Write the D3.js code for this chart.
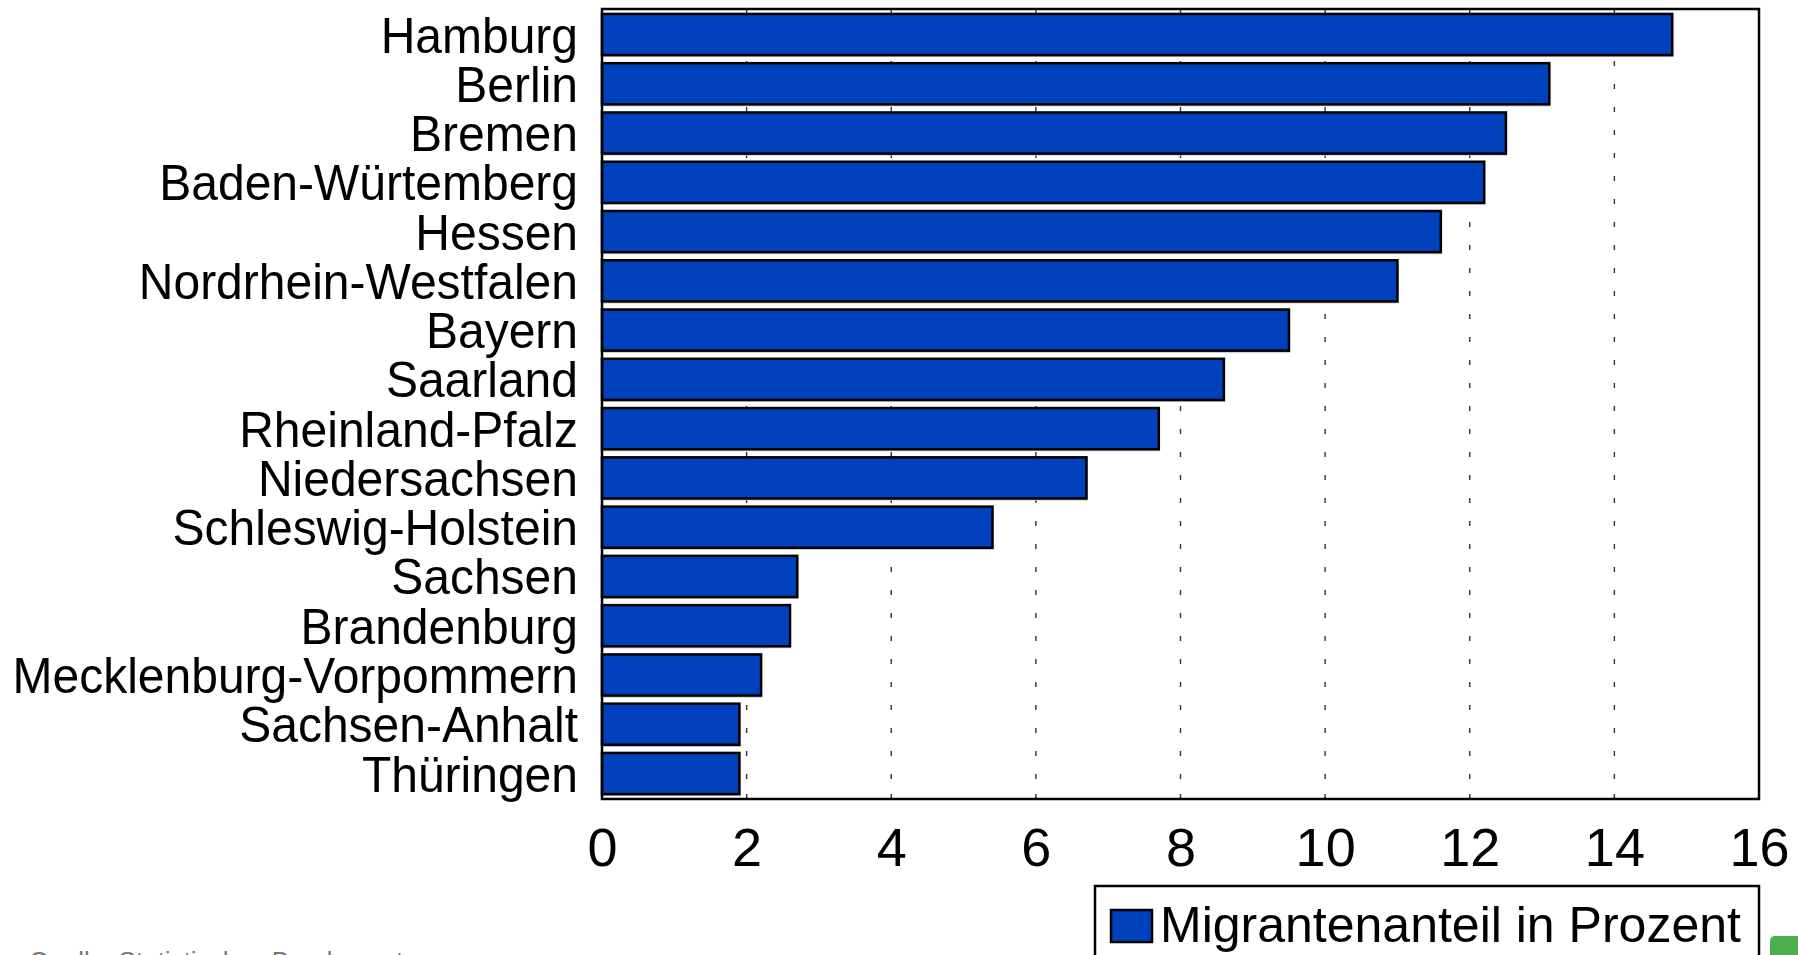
<!DOCTYPE html>
<html>
<head>
<meta charset="utf-8">
<script src="https://cdn.jsdelivr.net/npm/d3@7"></script>
<style>
  html, body { margin: 0; padding: 0; background: #fff; overflow: hidden; }
  svg { display: block; font-family: "Liberation Sans", Arial, sans-serif; }
</style>
</head>
<body>
<svg id="chart" width="1798" height="955"></svg>
<script>
// data
var states = ['Hamburg', 'Berlin', 'Bremen', 'Baden-Würtemberg', 'Hessen', 'Nordrhein-Westfalen',
  'Bayern', 'Saarland', 'Rheinland-Pfalz', 'Niedersachsen', 'Schleswig-Holstein', 'Sachsen',
  'Brandenburg', 'Mecklenburg-Vorpommern', 'Sachsen-Anhalt', 'Thüringen']
var migrantShare = [14.8, 13.1, 12.5, 12.2, 11.6, 11.0, 9.5, 8.6, 7.7, 6.7, 5.4, 2.7, 2.6, 2.2, 1.9, 1.9]
var xTicks = [0, 2, 4, 6, 8, 10, 12, 14, 16]
var legendLabel = 'Migrantenanteil in Prozent'
var sourceLabel = 'Quelle: Statistisches Bundesamt'

var barColor = '#0041be'

//
// Layout
//

var svg = d3.select('#chart')
var plotLeft = 602, plotRight = 1759, plotTop = 9, plotBottom = 799

var x = d3.scaleLinear().domain([0, 16]).range([plotLeft, plotRight])
var y = d3.scaleBand().domain(states).range([plotTop, plotBottom]).paddingInner(0.165).paddingOuter(0.1)

// dotted grid + small ticks on top/bottom edges
var inner = xTicks.slice(1, -1)
var grid = svg.append('g')
grid.selectAll('line.grid')
  .data(inner)
  .join('line')
  .attr('class', 'grid')
  .attr('x1', d => x(d)).attr('x2', d => x(d))
  .attr('y1', plotTop).attr('y2', plotBottom)
  .attr('stroke', '#333')
  .attr('stroke-width', 1.4)
  .attr('stroke-dasharray', '5,18')
  .attr('stroke-dashoffset', -6)

grid.selectAll('line.ttop')
  .data(inner)
  .join('line')
  .attr('class', 'ttop')
  .attr('x1', d => x(d)).attr('x2', d => x(d))
  .attr('y1', plotTop).attr('y2', plotTop + 4)
  .attr('stroke', '#333').attr('stroke-width', 1.4)

grid.selectAll('line.tbot')
  .data(inner)
  .join('line')
  .attr('class', 'tbot')
  .attr('x1', d => x(d)).attr('x2', d => x(d))
  .attr('y1', plotBottom).attr('y2', plotBottom - 5)
  .attr('stroke', '#333').attr('stroke-width', 1.4)

// bars, with a faint grey shadow under each
var rows = states.map((s, i) => ({ state: s, value: migrantShare[i] }))

svg.append('g').selectAll('rect.shadow')
  .data(rows)
  .join('rect')
  .attr('class', 'shadow')
  .attr('x', x(0) + 1)
  .attr('y', d => y(d.state) + 2)
  .attr('width', d => x(d.value) - x(0))
  .attr('height', y.bandwidth())
  .attr('fill', '#bbb')

svg.append('g').selectAll('rect.bar')
  .data(rows)
  .join('rect')
  .attr('class', 'bar')
  .attr('x', x(0))
  .attr('y', d => y(d.state))
  .attr('width', d => x(d.value) - x(0))
  .attr('height', y.bandwidth())
  .attr('fill', barColor)
  .attr('stroke', '#000')
  .attr('stroke-width', 2.5)

// frame
svg.append('rect')
  .attr('x', plotLeft).attr('y', plotTop)
  .attr('width', plotRight - plotLeft).attr('height', plotBottom - plotTop)
  .attr('fill', 'none')
  .attr('stroke', '#000')
  .attr('stroke-width', 2.5)

// category labels
var yAxis = svg.append('g')
  .attr('transform', 'translate(' + plotLeft + ',0)')
  .call(d3.axisLeft(y).tickSize(0).tickPadding(25))
yAxis.select('.domain').remove()
yAxis.selectAll('text')
  .attr('fill', '#000')
  .style('font-size', '50px')
  .attr('dy', '0.36em')
  .attr('transform', 'scale(0.96,1)')

// value axis
var xAxis = svg.append('g')
  .attr('transform', 'translate(0,' + plotBottom + ')')
  .call(d3.axisBottom(x).tickValues(xTicks).tickSize(0).tickPadding(48))
xAxis.select('.domain').remove()
xAxis.selectAll('text')
  .attr('fill', '#000')
  .style('font-size', '54px')
  .attr('dy', '0.36em')

// legend
var legend = svg.append('g')
legend.append('rect')
  .attr('x', 1095).attr('y', 886)
  .attr('width', plotRight - 1095).attr('height', 100)
  .attr('fill', '#fff')
  .attr('stroke', '#000')
  .attr('stroke-width', 2.5)
legend.append('rect')
  .attr('x', 1111).attr('y', 910)
  .attr('width', 41).attr('height', 32)
  .attr('fill', barColor)
  .attr('stroke', '#000')
  .attr('stroke-width', 2.5)
legend.append('text')
  .attr('x', 1160).attr('y', 942)
  .style('font-size', '50px')
  .text(legendLabel)

// source note, cut by the page edge
svg.append('text')
  .attr('x', 29).attr('y', 970)
  .style('font-size', '26px')
  .attr('fill', '#777')
  .text(sourceLabel)

// green corner badge
svg.append('rect')
  .attr('x', 1770).attr('y', 936)
  .attr('width', 40).attr('height', 30)
  .attr('rx', 5)
  .attr('fill', '#4cae4c')
</script>
</body>
</html>
